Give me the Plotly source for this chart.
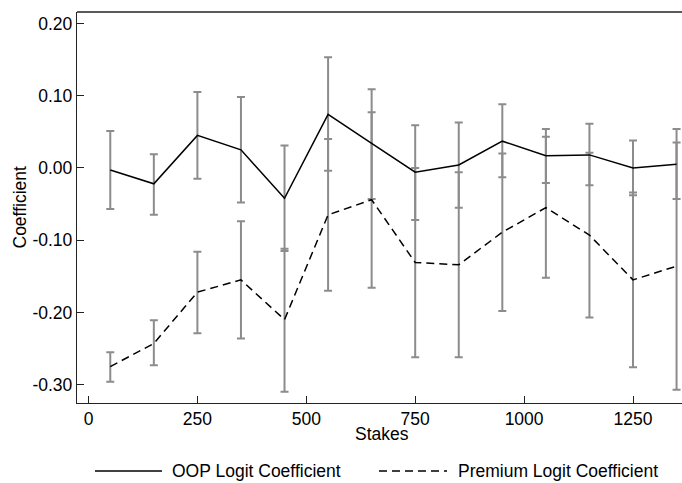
import plotly.graph_objects as go

# ---- data ----
stakes = [50, 150, 250, 350, 450, 550, 650, 750, 850, 950, 1050, 1150, 1250, 1350]

oop_coef = [-0.003, -0.022, 0.045, 0.025, -0.042, 0.074, 0.034, -0.006, 0.004, 0.037, 0.017, 0.018, 0.000, 0.005]
oop_hi = [0.051, 0.019, 0.105, 0.098, 0.031, 0.153, 0.109, 0.059, 0.063, 0.088, 0.054, 0.061, 0.038, 0.054]
oop_lo = [-0.057, -0.065, -0.015, -0.048, -0.115, -0.004, -0.043, -0.072, -0.055, -0.013, -0.021, -0.024, -0.038, -0.043]

prem_coef = [-0.275, -0.243, -0.172, -0.155, -0.210, -0.065, -0.044, -0.131, -0.134, -0.089, -0.055, -0.093, -0.155, -0.136]
prem_hi = [-0.255, -0.211, -0.116, -0.074, -0.112, 0.040, 0.077, 0.000, -0.006, 0.020, 0.043, 0.021, -0.034, 0.035]
prem_lo = [-0.296, -0.273, -0.229, -0.236, -0.310, -0.170, -0.166, -0.262, -0.262, -0.198, -0.152, -0.207, -0.276, -0.307]

y_tickvals = [-0.3, -0.2, -0.1, 0.0, 0.1, 0.2]
y_ticktext = ["-0.30", "-0.20", "-0.10", "0.00", "0.10", "0.20"]
x_tickvals = [0, 250, 500, 750, 1000, 1250]
x_ticktext = ["0", "250", "500", "750", "1000", "1250"]

series_names = ["OOP Logit Coefficient", "Premium Logit Coefficient"]

FONT = "Liberation Sans, Arial, Helvetica, sans-serif"
FS = 17.5
ERR_COLOR = "#8c8c8c"

fig = go.Figure()


def err_trace(y, hi, lo):
    return go.Scatter(
        x=stakes, y=y, mode="markers",
        marker=dict(size=1, color="rgba(0,0,0,0)"),
        error_y=dict(
            type="data", symmetric=False,
            array=[h - v for h, v in zip(hi, y)],
            arrayminus=[v - l for v, l in zip(y, lo)],
            color=ERR_COLOR, thickness=2, width=4,
        ),
        showlegend=False, hoverinfo="skip",
    )


fig.add_trace(err_trace(oop_coef, oop_hi, oop_lo))
fig.add_trace(err_trace(prem_coef, prem_hi, prem_lo))

fig.add_trace(go.Scatter(
    x=stakes, y=oop_coef, mode="lines", name=series_names[0],
    line=dict(color="black", width=1.5), showlegend=False,
))
fig.add_trace(go.Scatter(
    x=stakes, y=prem_coef, mode="lines", name=series_names[1],
    line=dict(color="black", width=1.5, dash="8px,5px"), showlegend=False,
))

# plot area geometry: left 77, right 682, top 12, bottom ~403
W, H = 682, 483
ML, MR, MT, MB = 77, 0, 12, 80
PW = W - ML - MR
PH = H - MT - MB


def px_x(px):
    return (px - ML) / PW


def px_y(py):
    return (H - MB - py) / PH


# top border of the plot region
fig.add_shape(type="line", xref="paper", yref="paper",
              x0=0, x1=1, y0=1, y1=1, line=dict(color="#222", width=1.4))

# manual legend
legend_y = px_y(471)
fig.add_shape(type="line", xref="paper", yref="paper",
              x0=px_x(95), x1=px_x(162), y0=legend_y, y1=legend_y,
              line=dict(color="black", width=1.5))
fig.add_shape(type="line", xref="paper", yref="paper",
              x0=px_x(379), x1=px_x(447), y0=legend_y, y1=legend_y,
              line=dict(color="black", width=1.5, dash="8px,5px"))

annotations = [
    dict(text=series_names[0], x=px_x(170), y=legend_y, xref="paper", yref="paper",
         xanchor="left", yanchor="middle", showarrow=False),
    dict(text=series_names[1], x=px_x(456), y=legend_y, xref="paper", yref="paper",
         xanchor="left", yanchor="middle", showarrow=False),
    dict(text="Stakes", x=px_x(381.7), y=px_y(433.5), xref="paper", yref="paper",
         xanchor="center", yanchor="middle", showarrow=False),
    dict(text="Coefficient", x=px_x(19), y=0.5, xref="paper", yref="paper",
         xanchor="center", yanchor="middle", textangle=-90, showarrow=False),
]
for a in annotations:
    a["font"] = dict(family=FONT, size=FS, color="black")
fig.update_layout(annotations=annotations)

fig.update_layout(
    width=W, height=H,
    margin=dict(l=ML, r=MR, t=MT, b=MB, pad=0),
    paper_bgcolor="white", plot_bgcolor="white",
    font=dict(family=FONT, size=FS, color="black"),
    showlegend=False,
    xaxis=dict(
        range=[-26.4, 1362.5], showgrid=False, zeroline=False,
        showline=True, linecolor="#222", linewidth=1.4, mirror=False,
        ticks="inside", ticklen=7, tickwidth=1.2, tickcolor="#222",
        tickvals=x_tickvals, ticktext=x_ticktext,
        tickfont=dict(family=FONT, size=FS, color="black"),
    ),
    yaxis=dict(
        range=[-0.3254, 0.2158], showgrid=False, zeroline=False,
        showline=True, linecolor="#222", linewidth=1.4, mirror=False,
        ticks="inside", ticklen=7, tickwidth=1.2, tickcolor="#222",
        tickvals=y_tickvals, ticktext=y_ticktext,
        tickfont=dict(family=FONT, size=FS, color="black"),
    ),
)

fig.write_html(
    "out.html",
    config={"displayModeBar": False},
    post_script="document.body.style.margin='0';document.body.style.overflow='hidden';",
)
